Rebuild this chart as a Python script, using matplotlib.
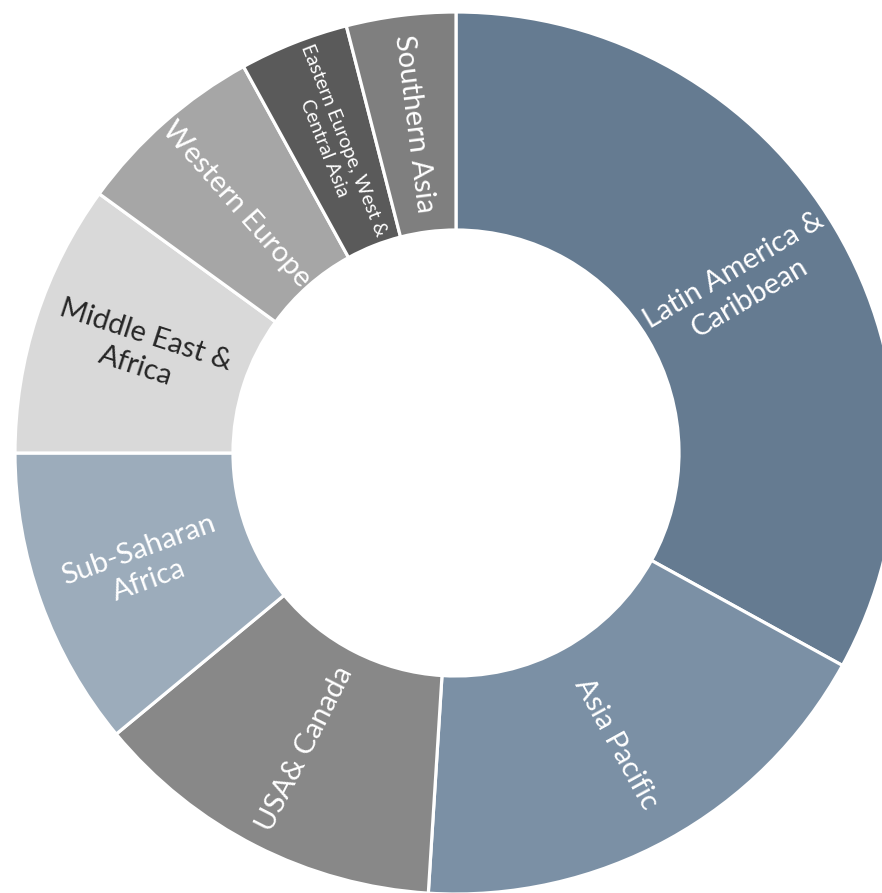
import matplotlib
matplotlib.use("Agg")
import matplotlib.pyplot as plt
import numpy as np

plt.rcParams['font.family'] = ['Lato', 'DejaVu Sans']

# Regional shares (%)
regions = [
    "Latin America &\nCaribbean",
    "Asia Pacific",
    "USA& Canada",
    "Sub-Saharan\nAfrica",
    "Middle East &\nAfrica",
    "Western Europe",
    "Eastern Europe, West &\nCentral Asia",
    "Southern Asia",
]
shares = [33, 18, 13, 11, 10, 7, 4, 4]
colors = ["#657b91", "#7b90a5", "#888888", "#9cacbb",
          "#d9d9d9", "#a6a6a6", "#5a5a5a", "#7f7f7f"]
text_colors = ["white", "white", "white", "white",
               "#262626", "white", "white", "white"]
font_sizes = [21, 21, 21, 21, 21, 21, 14, 21]

W, H = 882, 893
fig = plt.figure(figsize=(W / 100, H / 100), dpi=100)
ax = fig.add_axes([0, 0, 1, 1])

cx, cy = 456, H - 453
R_out = 441
ring = 218

wedges, _ = ax.pie(
    shares,
    colors=colors,
    startangle=90,
    counterclock=False,
    center=(cx, cy),
    radius=R_out,
    wedgeprops=dict(width=ring, edgecolor="white", linewidth=2.3),
)

# Labels sit mid-ring, oriented along the radius and kept upright
r_mid = R_out - ring / 2
for w, label, tc, fs in zip(wedges, regions, text_colors, font_sizes):
    mid = 0.5 * (w.theta1 + w.theta2)
    x = cx + r_mid * np.cos(np.deg2rad(mid))
    y = cy + r_mid * np.sin(np.deg2rad(mid))
    rot = ((mid + 90) % 180) - 90
    ax.text(x, y, label, ha="center", va="center", rotation=rot,
            rotation_mode="anchor", color=tc, fontsize=fs,
            multialignment="center", linespacing=1.3)

ax.set_xlim(0, W)
ax.set_ylim(0, H)
ax.set_aspect("equal", adjustable="box")
ax.axis("off")

fig.savefig("out.png", dpi=100, facecolor="white")
